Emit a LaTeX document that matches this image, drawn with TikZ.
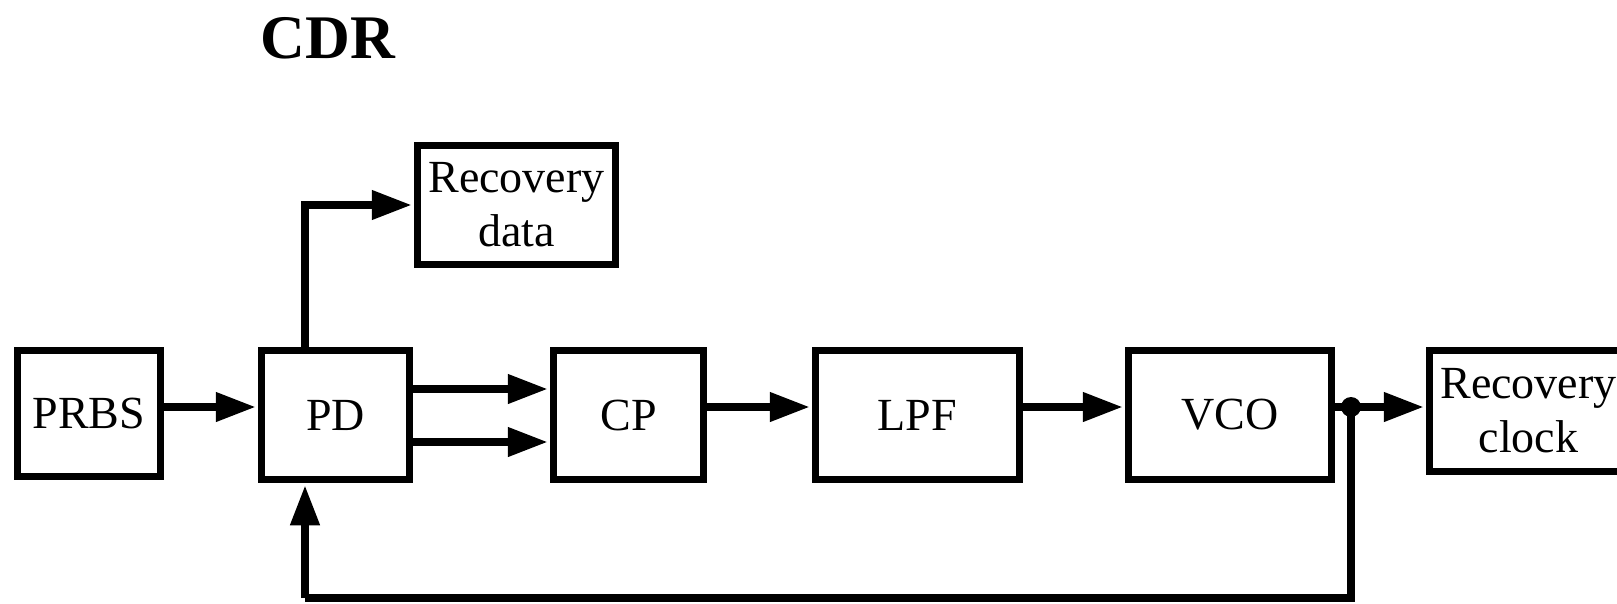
\documentclass[tikz,border=0pt]{standalone}
\usepackage{fontspec}
\setmainfont{Liberation Serif}
\usetikzlibrary{arrows.meta}
\begin{document}
\begin{tikzpicture}[x=1pt,y=-1pt,
  blk/.style={draw, line width=7.5pt, inner sep=0pt, align=center, font=\fontsize{46}{54}\selectfont},
  arr/.style={line width=7.5pt, -{Triangle[length=40pt,width=28pt]}, shorten >=2pt},
  wire/.style={line width=7.5pt}]
\useasboundingbox (0,0) rectangle (1617,603);
\node[font=\fontsize{62}{70}\selectfont\bfseries, anchor=base] (title) at (328,58) {CDR};
\node[blk, minimum width=143pt, minimum height=126pt] (PRBS) at (89,413.5) {PRBS};
\node[blk, minimum width=148pt, minimum height=129pt] (PD) at (335.5,415) {PD};
\node[blk, minimum width=150pt, minimum height=129pt] (CP) at (628.5,415) {CP};
\node[blk, minimum width=204pt, minimum height=129pt] (LPF) at (917.5,415) {LPF};
\node[blk, minimum width=203pt, minimum height=129pt] (VCO) at (1230,415) {VCO};
\node[blk, minimum width=198pt, minimum height=121pt] (RC) at (1528.5,411) {Recovery\\clock};
\node[blk, minimum width=198pt, minimum height=119pt] (RD) at (516.5,205) {Recovery\\data};
\coordinate (r) at (0,407);
\coordinate (ra) at (0,389);
\coordinate (rb) at (0,442);
\coordinate (px) at (305,0);
\coordinate (fb) at (0,598);
\coordinate (j) at (1351,407);
\draw[arr] (PRBS.east |- r) -- (PD.west |- r);
\draw[arr] (PD.east |- ra) -- (CP.west |- ra);
\draw[arr] (PD.east |- rb) -- (CP.west |- rb);
\draw[arr] (CP.east |- r) -- (LPF.west |- r);
\draw[arr] (LPF.east |- r) -- (VCO.west |- r);
\draw[wire] (VCO.east |- r) -- (j);
\draw[arr] (j) -- (RC.west |- r);
\draw[arr] (PD.north -| px) |- (RD.west);
\draw[wire, line join=miter] (j) -- (j |- fb) -- (px |- fb);
\draw[arr] (px |- fb) -- (PD.south -| px);
\fill (j) circle (10pt);
\end{tikzpicture}
\end{document}
